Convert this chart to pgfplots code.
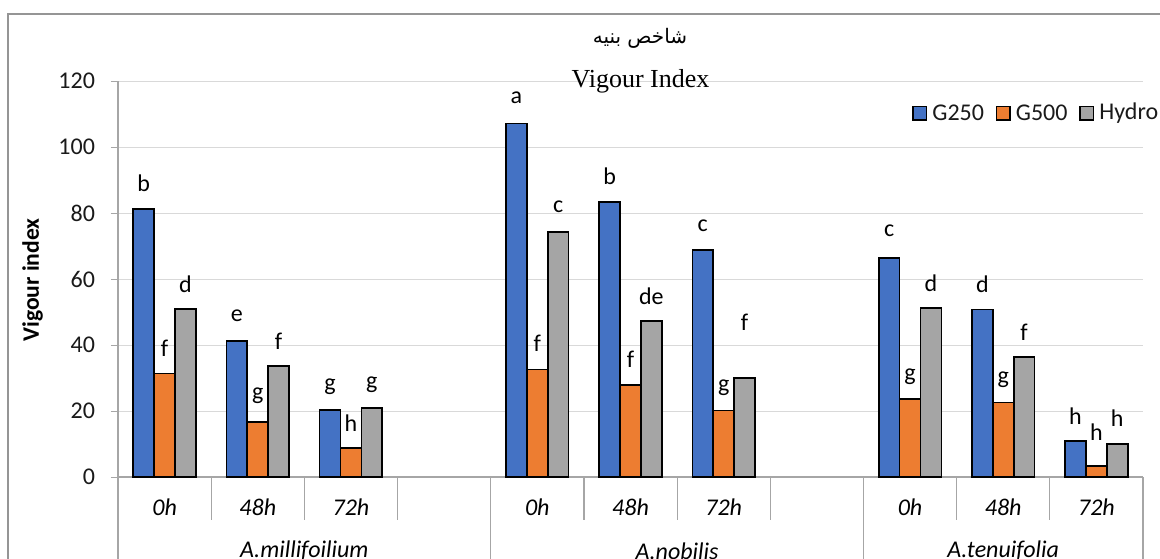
\documentclass[border=0pt]{standalone}
\usepackage{fontspec}
\setmainfont{Carlito}
\newfontfamily\timesf{Liberation Serif}
\newfontfamily\arabicfont[Script=Arabic]{DejaVu Sans}
\usepackage{pgfplots}
\pgfplotsset{compat=1.18}
\TeXXeTstate=1
\definecolor{cblue}{HTML}{4472C4}
\definecolor{corange}{HTML}{ED7D31}
\definecolor{cgray}{HTML}{A5A5A5}
\definecolor{gridc}{HTML}{D9D9D9}
\definecolor{axc}{HTML}{A6A6A6}
\definecolor{framec}{HTML}{959595}
\definecolor{txt}{HTML}{1A1A1A}
\newcommand{\cfont}{\fontsize{12}{14}\selectfont}

\pgfplotstableread{
x y
0 81.3
1 41.3
2 20.3
4 107.1
5 83.4
6 68.7
8 66.3
9 50.8
10 11.0
}\gtwofifty
\pgfplotstableread{
x y
0 31.4
1 16.7
2 8.8
4 32.6
5 27.8
6 20.2
8 23.6
9 22.6
10 3.3
}\gfivehundred
\pgfplotstableread{
x y
0 51.0
1 33.6
2 20.9
4 74.3
5 47.3
6 30.1
8 51.3
9 36.4
10 10.1
}\hydro
\pgfplotstableread{
x y lab
-0.224 89.0 b
0.776 48.8 e
1.776 27.3 g
3.776 114.8 a
4.776 91.0 b
5.776 76.1 c
7.776 74.7 c
8.776 58.4 d
9.776 18.4 h
0 39.0 f
1 24.5 g
2 16.3 h
4 40.4 f
5 35.8 f
6 27.2 g
8 30.5 g
9 29.5 g
10 13.5 h
0.224 58.4 d
1.224 41.0 f
2.224 28.0 g
4.224 81.9 c
5.224 54.7 de
6.224 47.0 f
8.224 58.7 d
9.224 43.8 f
10.224 17.8 h
}\letters

\begin{document}
\begin{tikzpicture}
\useasboundingbox (0pt,0pt) rectangle (580pt,-279pt);
\clip (0pt,0pt) rectangle (580pt,-279pt);
\begin{scope}[x=0.5pt,y=-0.5pt]
\fill[white] (0,0) rectangle (1160,558);
\draw[framec, line width=0.75pt] (8,14) rectangle (1200,620);
\node[font=\arabicfont\fontsize{10}{12}\selectfont, text=black] at (640,38) {\beginR شاخص بنیه\endR};
\node[font=\bfseries\fontsize{11.8}{13}\selectfont, rotate=90, text=black] at (32.5,280) {Vigour index};
\end{scope}
\begin{axis}[
  at={(59pt,-238.5pt)}, anchor=south west,
  scale only axis, width=512.5pt, height=198pt,
  xmin=-0.5, xmax=10.5, ymin=0, ymax=120,
  ytick={0,20,...,120}, xtick=\empty,
  ymajorgrids, grid style={gridc, line width=0.5pt},
  axis line style={draw=none},
  ytick pos=left, tick align=outside, major tick length=3.5pt,
  ytick style={axc, line width=0.5pt},
  yticklabel style={font=\cfont, text=txt, xshift=-4.5pt},
  /pgf/number format/assume math mode=true,
  clip=false,
]
\draw[axc, line width=0.6pt] (axis cs:-0.5,0) -- (axis cs:10.5,0);
\draw[axc, line width=0.6pt] (axis cs:-0.5,0) -- (axis cs:-0.5,120);
\pgfplotsinvokeforeach{0.5,1.5,2.5,4.5,5.5,6.5,8.5,9.5}{
  \draw[axc, line width=0.6pt] (axis cs:#1,0) -- ++(0pt,-21.5pt);
}
\pgfplotsinvokeforeach{-0.5,3.5,7.5,10.5}{
  \draw[axc, line width=0.6pt] (axis cs:#1,0) -- ++(0pt,-70pt);
}
\addplot[ybar, bar width=0.224, bar shift=-0.224, fill=cblue, draw=black, line width=0.85pt] table[x=x,y=y] {\gtwofifty};
\addplot[ybar, bar width=0.224, bar shift=0, fill=corange, draw=black, line width=0.85pt] table[x=x,y=y] {\gfivehundred};
\addplot[ybar, bar width=0.224, bar shift=0.224, fill=cgray, draw=black, line width=0.85pt] table[x=x,y=y] {\hydro};
\addplot[forget plot, draw=none, mark=none, nodes near coords, point meta=explicit symbolic,
  every node near coord/.append style={anchor=center, inner sep=0pt, font=\cfont, text=black}]
  table[x=x,y=y,meta=lab] {\letters};
\node[font=\itshape\cfont, text=black] at (axis cs:0,0) [yshift=-15pt] {0h};
\node[font=\itshape\cfont, text=black] at (axis cs:1,0) [yshift=-15pt] {48h};
\node[font=\itshape\cfont, text=black] at (axis cs:2,0) [yshift=-15pt] {72h};
\node[font=\itshape\cfont, text=black] at (axis cs:4,0) [yshift=-15pt] {0h};
\node[font=\itshape\cfont, text=black] at (axis cs:5,0) [yshift=-15pt] {48h};
\node[font=\itshape\cfont, text=black] at (axis cs:6,0) [yshift=-15pt] {72h};
\node[font=\itshape\cfont, text=black] at (axis cs:8,0) [yshift=-15pt] {0h};
\node[font=\itshape\cfont, text=black] at (axis cs:9,0) [yshift=-15pt] {48h};
\node[font=\itshape\cfont, text=black] at (axis cs:10,0) [yshift=-15pt] {72h};
\node[font=\itshape\cfont, text=black] at (axis cs:1.5,0) [yshift=-37pt] {A.millifoilium};
\node[font=\itshape\cfont, text=black] at (axis cs:5.5,0) [yshift=-37pt] {A.nobilis};
\node[font=\itshape\cfont, text=black] at (axis cs:9,0) [yshift=-37pt] {A.tenuifolia};
\end{axis}
\begin{scope}[x=0.5pt,y=-0.5pt]
\node[font=\timesf\fontsize{13}{15}\selectfont, anchor=base, inner sep=0pt, text=black] at (640.5,87.3) {Vigour Index};
% legend
\draw[fill=cblue, draw=black, line width=0.6pt] (913,106.5) rectangle (926.5,120);
\node[font=\cfont, anchor=west, inner sep=0pt, text=txt] at (932,113) {G250};
\draw[fill=corange, draw=black, line width=0.6pt] (996.5,106.5) rectangle (1010,120);
\node[font=\cfont, anchor=west, inner sep=0pt, text=txt] at (1015.5,113) {G500};
\draw[fill=cgray, draw=black, line width=0.6pt] (1080,106.5) rectangle (1093.5,120);
\node[font=\cfont, anchor=west, inner sep=0pt, text=txt] at (1099,113) {Hydro};
\end{scope}
\end{tikzpicture}
\end{document}
